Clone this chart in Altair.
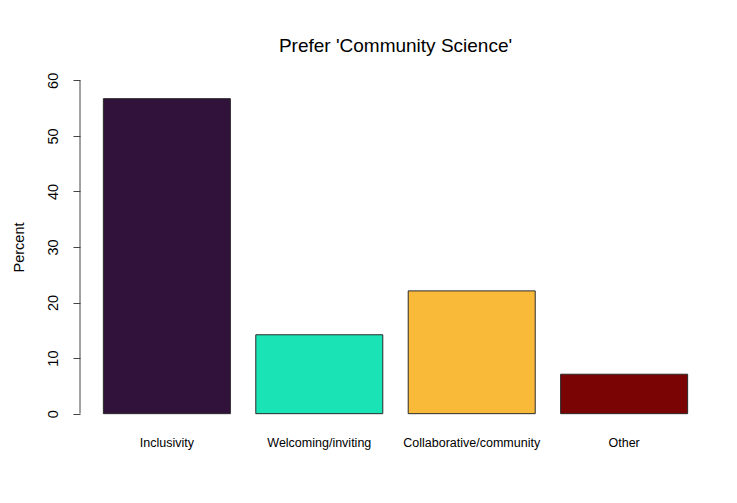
import altair as alt
import pandas as pd

categories = ["Inclusivity", "Welcoming/inviting", "Collaborative/community", "Other"]
percents = [56.7, 14.2, 22.1, 7.1]
colors = ["#30123B", "#1AE4B6", "#FABA39", "#7A0403"]
y_ticks = [0, 10, 20, 30, 40, 50, 60]

df = pd.DataFrame({"category": categories, "percent": percents, "color": colors})
axis_df = pd.DataFrame({"lo": [min(y_ticks)], "hi": [max(y_ticks)]})

yscale = alt.Scale(domain=[-2.4, 62.4], nice=False, zero=False)
yaxis = alt.Axis(
    title="Percent", values=y_ticks, domain=False, grid=False,
    tickSize=7, tickColor="#444444", tickWidth=1,
    labelAngle=270, labelAlign="center", labelBaseline="alphabetic",
    labelPadding=16, labelFontSize=14.5, labelColor="black",
    titleAngle=270, titleAlign="center", titleBaseline="alphabetic",
    titleX=-57, titleY=180, titleFontSize=14.5, titleFontWeight="normal",
    titleColor="black",
)

bars = alt.Chart(df).mark_bar(stroke="#2a2a2a", strokeWidth=1).encode(
    x=alt.X(
        "category:N",
        sort=categories,
        scale=alt.Scale(paddingInner=0.1667, paddingOuter=0.1533),
        axis=alt.Axis(
            title=None, labelAngle=0, domain=False, ticks=False,
            labelPadding=9, labelFontSize=12.5, labelColor="black",
        ),
    ),
    y=alt.Y("percent:Q", scale=yscale, axis=yaxis),
    y2=alt.datum(0),
    color=alt.Color("color:N", scale=None),
)

axis_line = alt.Chart(axis_df).mark_rule(color="#444444", strokeWidth=1).encode(
    x=alt.value(0),
    y=alt.Y("lo:Q", scale=yscale, axis=yaxis),
    y2="hi:Q",
)

chart = alt.layer(bars, axis_line).properties(
    width=631,
    height=360,
    autosize=alt.AutoSizeParams(type="none"),
    padding={"left": 72, "top": 59, "right": 10, "bottom": 60},
    title=alt.Title(
        "Prefer 'Community Science'", fontSize=19, fontWeight="normal",
        anchor="middle", baseline="alphabetic", offset=-4, color="black",
    ),
).configure(
    font="Liberation Sans",
    background="white",
).configure_view(stroke=None)

chart.save("out.html", embed_options={"renderer": "svg", "actions": False})
